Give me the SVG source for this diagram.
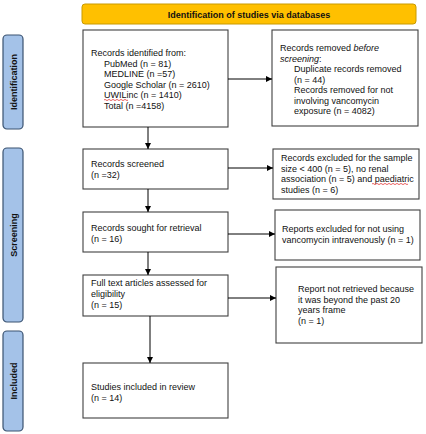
<svg xmlns="http://www.w3.org/2000/svg" width="426" height="434" viewBox="0 0 426 434">
<defs>
<marker id="ah" viewBox="0 0 10 10" refX="10" refY="5" markerWidth="6" markerHeight="6" markerUnits="userSpaceOnUse" orient="auto">
<path d="M0,0 L10,5 L0,10 Z" fill="#000"/>
</marker>
<style>
text{font-family:"Liberation Sans",Arial,sans-serif;font-size:9px;fill:#111}
.box{fill:#fff;stroke:#404040;stroke-width:1.1}
.side{fill:#a4c2e8;stroke:#3a5270;stroke-width:1.2}
.sidet{font-weight:bold;font-size:9px}
.ban{fill:#ffc000;stroke:#c99a00;stroke-width:1}
.con{stroke:#000;stroke-width:1;fill:none;marker-end:url(#ah)}
.sq{stroke:#e02020;stroke-width:0.7;fill:none}
</style>
</defs>
<rect width="426" height="434" fill="#fff"/>

<g id="banner">
<rect class="ban" x="82" y="4" width="334" height="20" rx="3"/>
<text x="249" y="17.5" text-anchor="middle" font-weight="bold">Identification of studies via databases</text>
</g>

<g id="side-identification">
<rect class="side" x="3" y="35" width="20" height="94" rx="4"/>
<text class="sidet" transform="translate(16.5,82) rotate(-90)" text-anchor="middle">Identification</text>
</g>
<g id="side-screening">
<rect class="side" x="3" y="148" width="20" height="174" rx="4"/>
<text class="sidet" transform="translate(16.5,235) rotate(-90)" text-anchor="middle">Screening</text>
</g>
<g id="side-included">
<rect class="side" x="3" y="331" width="20" height="100" rx="4"/>
<text class="sidet" transform="translate(16.5,381) rotate(-90)" text-anchor="middle">Included</text>
</g>

<g id="identified">
<rect class="box" x="83" y="30" width="145" height="97"/>
<text x="91" y="56">Records identified from:</text>
<text x="104" y="66.5">PubMed (n = 81)</text>
<text x="104" y="77">MEDLINE (n =57)</text>
<text x="104" y="87.5">Google Scholar (n = 2610)</text>
<text x="104" y="98">UWILinc (n = 1410)</text>
<text x="104" y="108.5">Total (n =4158)</text>
<path class="sq" d="M104,100 q1,-1.2 2,0 t2,0 t2,0 t2,0 t2,0 t2,0 t2,0 t2,0 t2,0 t2,0 t2,0 t2,0"/>
</g>

<g id="removed">
<rect class="box" x="272" y="30" width="146" height="96"/>
<text x="280" y="51">Records removed <tspan font-style="italic">before</tspan></text>
<text x="280" y="61.5" font-style="italic">screening<tspan font-style="normal">:</tspan></text>
<text x="294" y="72">Duplicate records removed</text>
<text x="294" y="82.5">(n = 44)</text>
<text x="294" y="93">Records removed for not</text>
<text x="294" y="103.5">involving vancomycin</text>
<text x="294" y="114">exposure (n = 4082)</text>
</g>

<g id="screened">
<rect class="box" x="83" y="149" width="145" height="40"/>
<text x="91" y="167">Records screened</text>
<text x="91" y="177.5">(n =32)</text>
</g>

<g id="excluded">
<rect class="box" x="273" y="149" width="146" height="50"/>
<text x="281" y="161">Records excluded for the sample</text>
<text x="281" y="171.5">size &lt; 400 (n = 5), no renal</text>
<text x="281" y="182">association (n = 5) and paediatric</text>
<text x="281" y="192.5">studies (n = 6)</text>
<path class="sq" d="M372,184 q1,-1.2 2,0 t2,0 t2,0 t2,0 t2,0 t2,0 t2,0 t2,0 t2,0 t2,0 t2,0 t2,0 t2,0 t2,0 t2,0 t2,0 t2,0 t2,0"/>
</g>

<g id="sought">
<rect class="box" x="83" y="212" width="145" height="40"/>
<text x="91" y="231">Records sought for retrieval</text>
<text x="91" y="241.5">(n = 16)</text>
</g>

<g id="notiv">
<rect class="box" x="275" y="210" width="145" height="50"/>
<text x="282" y="232">Reports excluded for not using</text>
<text x="282" y="242.5">vancomycin intravenously (n = 1)</text>
</g>

<g id="fulltext">
<rect class="box" x="83" y="275" width="145" height="41"/>
<text x="91" y="286">Full text articles assessed for</text>
<text x="91" y="297">eligibility</text>
<text x="91" y="308">(n = 15)</text>
</g>

<g id="notretrieved">
<rect class="box" x="276" y="267" width="146" height="76"/>
<text x="298" y="292">Report not retrieved because</text>
<text x="298" y="302.5">it was beyond the past 20</text>
<text x="298" y="313">years frame</text>
<text x="298" y="323.5">(n = 1)</text>
</g>

<g id="included">
<rect class="box" x="83" y="363" width="145" height="55"/>
<text x="91" y="390">Studies included in review</text>
<text x="91" y="400.5">(n = 14)</text>
</g>

<g id="connectors">
<line class="con" x1="148" y1="127" x2="148" y2="149"/>
<line class="con" x1="148" y1="189" x2="148" y2="212"/>
<line class="con" x1="148" y1="252" x2="148" y2="275"/>
<line class="con" x1="150" y1="316" x2="150" y2="363"/>
<line class="con" x1="228" y1="79" x2="272" y2="79"/>
<line class="con" x1="228" y1="168" x2="273" y2="168"/>
<line class="con" x1="228" y1="234" x2="275" y2="234"/>
<line class="con" x1="228" y1="298" x2="276" y2="298"/>
</g>
</svg>
